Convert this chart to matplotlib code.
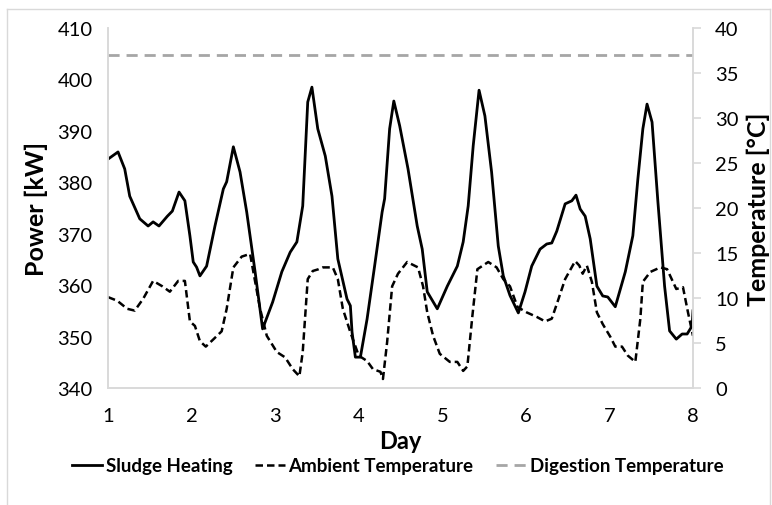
import matplotlib
matplotlib.use('Agg')
import matplotlib.pyplot as plt
from matplotlib.lines import Line2D

plt.rcParams['font.family'] = ['Lato', 'DejaVu Sans']

# Sludge heating power [kW] vs day
heat_day = [1.00, 1.12, 1.20, 1.26, 1.38, 1.48, 1.54, 1.61, 1.71, 1.77, 1.85, 1.92,
            1.98, 2.02, 2.06, 2.10, 2.18, 2.28, 2.38, 2.42, 2.50, 2.58, 2.66, 2.76,
            2.85, 2.97, 3.08, 3.18, 3.26, 3.33, 3.39, 3.44, 3.51, 3.60, 3.68, 3.75,
            3.86, 3.90, 3.92, 3.96, 4.02, 4.10, 4.19, 4.28, 4.31, 4.37, 4.42, 4.49,
            4.59, 4.70, 4.76, 4.82, 4.94, 5.06, 5.18, 5.25, 5.31, 5.37, 5.44, 5.51,
            5.59, 5.67, 5.73, 5.81, 5.91, 5.99, 6.07, 6.17, 6.25, 6.31, 6.37, 6.47,
            6.55, 6.60, 6.65, 6.71, 6.77, 6.85, 6.92, 6.98, 7.07, 7.19, 7.28, 7.34,
            7.40, 7.45, 7.51, 7.58, 7.66, 7.72, 7.80, 7.87, 7.93, 7.99, 8.00]
heat_kw = [384.5, 385.9, 382.6, 377.3, 372.9, 371.5, 372.3, 371.5, 373.4, 374.4, 378.1, 376.4,
           369.6, 364.5, 363.5, 361.8, 363.7, 371.5, 378.7, 380.1, 386.9, 382.0, 374.2, 362.6,
           351.5, 356.7, 362.6, 366.4, 368.4, 375.4, 395.6, 398.5, 390.4, 385.1, 377.3, 365.1,
           357.3, 356.0, 350.9, 346.0, 346.0, 353.4, 363.7, 374.2, 376.8, 390.4, 395.8, 391.0,
           382.6, 371.5, 367.0, 358.7, 355.4, 359.8, 363.7, 368.4, 375.4, 387.1, 397.9, 392.9,
           382.0, 367.6, 361.8, 358.0, 354.6, 358.7, 363.7, 367.0, 368.0, 368.2, 370.5, 375.8,
           376.4, 377.5, 374.8, 373.4, 369.0, 359.8, 357.9, 357.7, 355.8, 362.6, 369.6, 380.6,
           390.4, 395.2, 391.7, 376.2, 359.8, 351.1, 349.5, 350.5, 350.5, 352.1, 355.0]

# Ambient temperature [°C] vs day
amb_day = [1.00, 1.11, 1.23, 1.32, 1.42, 1.54, 1.65, 1.74, 1.84, 1.92, 1.98, 2.04,
           2.10, 2.17, 2.26, 2.36, 2.42, 2.50, 2.60, 2.70, 2.82, 2.90, 3.02, 3.12,
           3.21, 3.29, 3.33, 3.39, 3.45, 3.52, 3.57, 3.69, 3.75, 3.81, 3.90, 4.00,
           4.10, 4.17, 4.26, 4.29, 4.34, 4.40, 4.47, 4.58, 4.71, 4.77, 4.82, 4.89,
           4.97, 5.09, 5.18, 5.25, 5.30, 5.36, 5.42, 5.55, 5.65, 5.73, 5.81, 5.90,
           6.01, 6.13, 6.23, 6.31, 6.38, 6.47, 6.59, 6.64, 6.68, 6.73, 6.79, 6.85,
           6.92, 7.01, 7.07, 7.15, 7.22, 7.31, 7.37, 7.40, 7.49, 7.61, 7.69, 7.76,
           7.80, 7.88, 7.94, 8.00]
amb_temp = [10.1, 9.7, 8.8, 8.6, 9.9, 11.9, 11.3, 10.7, 11.9, 11.9, 7.4, 6.9,
            5.2, 4.6, 5.4, 6.3, 8.8, 13.4, 14.6, 14.9, 8.8, 5.8, 4.0, 3.4,
            2.1, 1.3, 4.0, 12.1, 13.0, 13.2, 13.4, 13.4, 12.1, 8.8, 6.2, 3.6,
            3.0, 2.1, 1.8, 1.0, 5.1, 11.3, 12.7, 14.0, 13.4, 11.3, 8.4, 5.8,
            3.8, 2.9, 2.9, 1.9, 2.4, 8.0, 13.2, 14.0, 13.4, 12.1, 11.3, 9.0,
            8.4, 7.9, 7.4, 7.7, 9.6, 12.1, 14.1, 13.6, 12.7, 13.6, 11.8, 8.4,
            7.1, 5.7, 4.6, 4.6, 3.6, 2.9, 7.7, 11.8, 12.9, 13.4, 13.2, 11.8,
            11.0, 11.2, 8.4, 5.8]

# Digestion temperature [°C]
dig_day = [1, 8]
dig_temp = [37, 37]

W, H = 772, 506
fig = plt.figure(figsize=(W / 100, H / 100), dpi=100)
ax = fig.add_axes([108 / W, 1 - 389 / H, (693 - 108) / W, 360 / H])
ax2 = ax.twinx()

grid_c = '#d9d9d9'
l1, = ax.plot(heat_day, heat_kw, color='black', lw=2.0, solid_joinstyle='round')
l2, = ax2.plot(amb_day, amb_temp, color='black', lw=1.8, ls=(0, (3, 1.6)))
l3, = ax2.plot(dig_day, dig_temp, color='#a6a6a6', lw=2.0, ls=(0, (4, 2.5)))

ax.set_xlim(1, 8)
ax.set_ylim(340, 410)
ax2.set_ylim(0, 40)
ax.set_xticks(range(1, 9))
ax.set_yticks(range(340, 411, 10))
ax2.set_yticks(range(0, 41, 5))

for a in (ax, ax2):
    for s in a.spines.values():
        s.set_color(grid_c)
        s.set_linewidth(1.2)
    a.spines['top'].set_visible(False)
ax.tick_params(axis='x', length=0, labelsize=14.5, pad=14)
ax.tick_params(axis='y', length=0, labelsize=14.5, pad=11)
ax2.tick_params(axis='y', length=6, color=grid_c, width=1.2, labelsize=14.5, pad=10)

ax.set_xlabel('Day', fontsize=17, fontweight='bold', labelpad=3)
ax.set_ylabel('Power [kW]', fontsize=18, fontweight='bold', labelpad=7)
ax2.set_ylabel('Temperature [°C]', fontsize=18, fontweight='bold', labelpad=6)

fig.legend([l1, l2, l3], ['Sludge Heating', 'Ambient Temperature', 'Digestion Temperature'],
           loc='center', bbox_to_anchor=(0.515, 1 - 467 / H), ncol=3, frameon=False,
           prop={'weight': 'bold', 'size': 13.5}, handlelength=1.6,
           handletextpad=0.2, columnspacing=1.2)

# chart area border
fig.add_artist(Line2D([7 / W, 770 / W], [1 - 10 / H, 1 - 10 / H], color=grid_c, lw=1))
fig.add_artist(Line2D([7 / W, 7 / W], [0, 1 - 10 / H], color=grid_c, lw=1))
fig.add_artist(Line2D([770 / W, 770 / W], [0, 1 - 10 / H], color=grid_c, lw=1))

fig.savefig('out.png', dpi=100)
